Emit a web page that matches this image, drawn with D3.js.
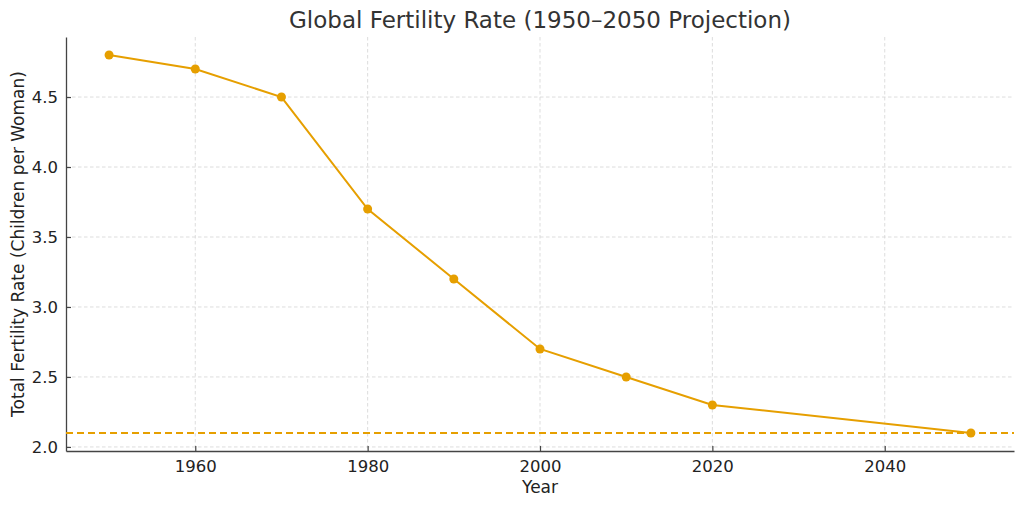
<!DOCTYPE html>
<html><head><meta charset="utf-8">
<script src="https://cdn.jsdelivr.net/npm/d3@7"></script>
<style>body{margin:0;background:#fff}svg{display:block}text{font-family:"DejaVu Sans",sans-serif}</style>
</head><body>
<svg id="c" width="1024" height="507"></svg>
<script>
const years = [1950, 1960, 1970, 1980, 1990, 2000, 2010, 2020, 2050];
const fertility = [4.8, 4.7, 4.5, 3.7, 3.2, 2.7, 2.5, 2.3, 2.1];
const replacementLevel = 2.1;
const xTicks = [1960, 1980, 2000, 2020, 2040];
const yTicks = [2.0, 2.5, 3.0, 3.5, 4.0, 4.5];
const title = "Global Fertility Rate (1950–2050 Projection)";
const xLabel = "Year";
const yLabel = "Total Fertility Rate (Children per Woman)";

const svg = d3.select("#c");
const L = 66, R = 1014, T = 37, B = 451;
const x = d3.scaleLinear().domain([1945, 2055]).range([L, R]);
const y = d3.scaleLinear().domain([1.971, 4.929]).range([B, T]);
const color = "#E69F00";

// grid
svg.append("g").selectAll("line").data(xTicks).join("line")
  .attr("x1", d => x(d)).attr("x2", d => x(d)).attr("y1", T).attr("y2", B)
  .attr("stroke", "#d4d4d4").attr("stroke-width", 0.8).attr("stroke-dasharray", "3.5,2.5");
svg.append("g").selectAll("line").data(yTicks).join("line")
  .attr("y1", d => y(d)).attr("y2", d => y(d)).attr("x1", L).attr("x2", R)
  .attr("stroke", "#d4d4d4").attr("stroke-width", 0.8).attr("stroke-dasharray", "3.5,2.5");

// axes
const xAxis = svg.append("g").attr("transform", `translate(0,${B})`)
  .call(d3.axisBottom(x).tickValues(xTicks).tickFormat(d3.format("d")).tickSizeInner(-5).tickSizeOuter(0).tickPadding(9));
const yAxis = svg.append("g").attr("transform", `translate(${L},0)`)
  .call(d3.axisLeft(y).tickValues(yTicks).tickFormat(d3.format(".1f")).tickSizeInner(-5).tickSizeOuter(0).tickPadding(8));
[xAxis, yAxis].forEach(a => {
  a.attr("font-size", null).attr("font-family", null);
  a.select(".domain").attr("stroke", "#444").attr("stroke-width", 1.3);
  a.selectAll(".tick line").attr("stroke", "#444").attr("stroke-width", 1.2);
  a.selectAll(".tick text").attr("fill", "#222").style("font-size", "16.5px").style("font-family", "DejaVu Sans");
});

// replacement line
svg.append("line").attr("x1", L).attr("x2", R)
  .attr("y1", y(replacementLevel)).attr("y2", y(replacementLevel))
  .attr("stroke", color).attr("stroke-width", 2).attr("stroke-dasharray", "7,4");

// series
const data = years.map((yr, i) => ({yr, v: fertility[i]}));
svg.append("path").datum(data)
  .attr("d", d3.line().x(d => x(d.yr)).y(d => y(d.v)))
  .attr("fill", "none").attr("stroke", color).attr("stroke-width", 2);
svg.append("g").selectAll("circle").data(data).join("circle")
  .attr("cx", d => x(d.yr)).attr("cy", d => y(d.v)).attr("r", 4.5).attr("fill", color);

// texts
svg.append("text").attr("x", (L + R) / 2).attr("y", 28).attr("text-anchor", "middle")
  .style("font-size", "23px").attr("fill", "#333").text(title);
svg.append("text").attr("x", (L + R) / 2).attr("y", 493).attr("text-anchor", "middle")
  .style("font-size", "17px").attr("fill", "#222").text(xLabel);
svg.append("text").attr("transform", `translate(24,${(T + B) / 2}) rotate(-90)`).attr("text-anchor", "middle")
  .style("font-size", "17px").attr("fill", "#222").text(yLabel);
</script>
</body></html>
